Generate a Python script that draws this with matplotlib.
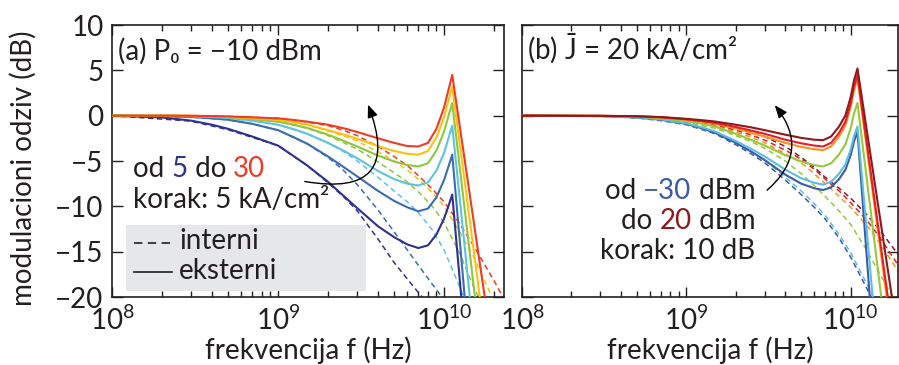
import numpy as np
import matplotlib
matplotlib.use('Agg')
import matplotlib.pyplot as plt
from matplotlib.patches import FancyArrowPatch, Rectangle
from matplotlib.lines import Line2D
from matplotlib.ticker import LogLocator, NullFormatter, MultipleLocator, LogFormatterMathtext

FONT = ['Lato', 'DejaVu Sans']
plt.rcParams['font.family'] = FONT
plt.rcParams['mathtext.fontset'] = 'custom'
plt.rcParams['mathtext.rm'] = 'Lato'
plt.rcParams['mathtext.it'] = 'Lato:italic'
TXT = '#231f20'

# ---------------- data: panel (a) P0 = -10 dBm, J = 5..30 kA/cm2 ----------------
J_labels = [5, 10, 15, 20, 25, 30]
freq_a_ext = [1e8, 2e8, 3e8, 4e8, 5e8, 7e8, 1e9, 1.25e9, 1.5e9, 2e9, 2.5e9, 3e9, 4e9, 5e9,
              6e9, 7e9, 8e9, 9e9, 1e10, 1.07e10, 1.12e10, 2e10]
ext_a_J5 = [0, -0.2, -0.55, -1.0, -1.45, -2.3, -3.3, -4.5, -5.5, -7.3, -8.9, -10.2, -12.2, -13.4,
            -14.2, -14.6, -14.3, -13.1, -11.35, -9.8, -8.7, -61]
ext_a_J10 = [0, -0.05, -0.15, -0.3, -0.45, -0.9, -1.6, -2.4, -3.1, -4.5, -5.7, -6.7, -8.3, -9.4,
             -10.1, -10.55, -10.25, -9.0, -7.1, -5.45, -4.3, -57]
ext_a_J15 = [0, -0.02, -0.07, -0.15, -0.25, -0.55, -1.0, -1.5, -2.0, -3.0, -3.9, -4.7, -6.1, -7.0,
             -7.5, -7.7, -7.35, -6.05, -4.1, -2.3, -1.1, -46]
ext_a_J20 = [0, 0, -0.03, -0.1, -0.17, -0.38, -0.66, -1.0, -1.35, -2.1, -2.8, -3.4, -4.4, -5.05,
             -5.45, -5.6, -5.25, -3.85, -1.75, 0.15, 1.4, -38]
ext_a_J25 = [0, 0, -0.02, -0.07, -0.12, -0.28, -0.47, -0.72, -1.0, -1.6, -2.1, -2.55, -3.35, -3.9,
             -4.2, -4.3, -3.9, -2.4, -0.2, 1.85, 3.2, -32]
ext_a_J30 = [0, 0, -0.01, -0.05, -0.08, -0.18, -0.3, -0.48, -0.66, -1.0, -1.4, -1.8, -2.5, -3.0,
             -3.35, -3.4, -3.0, -1.45, 0.9, 3.05, 4.5, -27]

freq_a_int = [1e8, 3e8, 5e8, 7e8, 1e9, 1.5e9, 2e9, 2.5e9, 3e9, 4e9, 5e9, 6e9, 7e9, 8.5e9, 1e10,
              1.25e10, 1.5e10, 2e10, 2.5e10]
int_a_J5 = [0, -0.6, -1.55, -2.4, -3.3, -5.5, -7.4, -9.0, -10.5, -13.6, -16.2, -18.0, -19.5,
            -21.4, -23.0, -25.6, -27.8, -31.5, -34.5]
int_a_J10 = [0, -0.15, -0.45, -0.9, -1.6, -3.1, -4.6, -6.1, -7.6, -10.4, -12.8, -14.8, -16.5,
             -18.6, -20.3, -23.2, -25.6, -29.2, -32]
int_a_J15 = [0, -0.1, -0.3, -0.55, -1.0, -2.0, -3.0, -4.0, -5.0, -6.8, -8.3, -9.5, -10.7,
             -12.6, -14.8, -19.0, -22.6, -27, -30]
int_a_J20 = [0, -0.05, -0.2, -0.38, -0.66, -1.4, -2.2, -3.0, -3.7, -5.1, -6.3, -7.3, -8.4,
             -10.0, -11.8, -15.3, -18.8, -23.5, -27]
int_a_J25 = [0, -0.05, -0.15, -0.28, -0.47, -1.0, -1.7, -2.25, -2.8, -4.0, -5.0, -6.0, -7.0,
             -8.5, -10.0, -12.9, -15.5, -20.5, -24]
int_a_J30 = [0, 0, -0.1, -0.18, -0.3, -0.7, -1.1, -1.65, -2.2, -3.4, -4.5, -5.5, -6.6,
             -8.1, -9.5, -12.0, -14.3, -18.2, -21.5]

# ---------------- data: panel (b) J = 20 kA/cm2, P0 = -30..20 dBm ----------------
P_labels = [-30, -20, -10, 0, 10, 20]
freq_b_ext = [1e8, 3e8, 5e8, 7e8, 1e9, 1.25e9, 1.5e9, 2e9, 2.5e9, 3e9, 4e9, 5e9, 6e9, 6.8e9,
              7.6e9, 8.5e9, 9.3e9, 1e10, 1.05e10, 1.1e10, 2e10]
ext_b_Pm30 = [0, -0.05, -0.2, -0.45, -0.9, -1.4, -1.9, -3.0, -4.0, -4.9, -6.5, -7.5, -8.0, -8.2,
              -7.9, -7.0, -5.95, -4.35, -2.8, -1.8, -65]
ext_b_Pm20 = [0, -0.05, -0.18, -0.4, -0.85, -1.3, -1.75, -2.8, -3.7, -4.5, -5.95, -6.9, -7.4, -7.6,
              -7.3, -6.4, -5.35, -3.75, -2.2, -1.2, -54]
ext_b_Pm10 = [0, -0.03, -0.1, -0.3, -0.6, -0.9, -1.2, -2.0, -2.7, -3.3, -4.35, -5.05, -5.45, -5.6,
              -5.25, -4.27, -3.15, -1.4, 0.3, 1.4, -37]
ext_b_P0 = [0, -0.02, -0.08, -0.2, -0.45, -0.67, -0.9, -1.4, -1.9, -2.3, -3.0, -3.45, -3.7, -3.8,
            -3.4, -2.3, -1.05, 0.95, 2.85, 4.1, -31]
ext_b_P10 = [0, -0.02, -0.07, -0.18, -0.4, -0.6, -0.8, -1.25, -1.65, -2.0, -2.65, -3.05, -3.3, -3.4,
             -3.0, -1.9, -0.65, 1.35, 3.25, 4.5, -30]
ext_b_P20 = [0, -0.02, -0.06, -0.15, -0.35, -0.5, -0.65, -1.0, -1.3, -1.6, -2.1, -2.45, -2.65, -2.7,
             -2.3, -1.2, 0.05, 2.05, 3.95, 5.2, -26]

freq_b_int = [1e8, 3e8, 5e8, 7e8, 1e9, 1.5e9, 2e9, 2.5e9, 3e9, 4e9, 5e9, 6e9, 7e9, 8.5e9, 1e10,
              1.25e10, 1.5e10, 2e10]
int_b_Pm30 = [0, -0.05, -0.25, -0.55, -1.0, -2.0, -3.2, -4.25, -5.2, -7.1, -8.7, -10.1, -11.4,
              -13.5, -15.6, -19.0, -22, -26]
int_b_Pm20 = [0, -0.05, -0.22, -0.5, -0.95, -1.9, -3.0, -4.0, -4.9, -6.8, -8.3, -9.7, -11.0,
              -13.1, -15.1, -18.5, -21.5, -25.5]
int_b_Pm10 = [0, -0.03, -0.15, -0.35, -0.7, -1.4, -2.2, -2.9, -3.6, -5.0, -6.4, -7.7, -8.9,
              -10.5, -12.0, -14.8, -17.4, -21.5]
int_b_P0 = [0, -0.02, -0.1, -0.25, -0.5, -1.1, -1.8, -2.4, -3.0, -4.2, -5.2, -6.4, -7.5,
            -8.9, -10.1, -12.1, -14.0, -17.5]
int_b_P10 = [0, -0.02, -0.1, -0.22, -0.45, -1.0, -1.6, -2.15, -2.7, -3.8, -4.8, -5.9, -7.0,
             -8.3, -9.6, -11.5, -13.4, -16.8]
int_b_P20 = [0, -0.02, -0.08, -0.2, -0.4, -0.8, -1.3, -1.8, -2.3, -3.4, -4.6, -5.7, -6.8,
             -8.0, -9.1, -10.9, -12.6, -15.6]

colors_a = ['#2e3192', '#3a6cb6', '#5fc3dc', '#8dc63f', '#fdc010', '#ef3b24']
colors_b = ['#3a5aaa', '#5cbde2', '#95c83d', '#f7941d', '#ec1c24', '#8b1a1c']

ext_a = [ext_a_J5, ext_a_J10, ext_a_J15, ext_a_J20, ext_a_J25, ext_a_J30]
int_a = [int_a_J5, int_a_J10, int_a_J15, int_a_J20, int_a_J25, int_a_J30]
ext_b = [ext_b_Pm30, ext_b_Pm20, ext_b_Pm10, ext_b_P0, ext_b_P10, ext_b_P20]
int_b = [int_b_Pm30, int_b_Pm20, int_b_Pm10, int_b_P0, int_b_P10, int_b_P20]

W, H = 899, 365
fig = plt.figure(figsize=(W / 100, H / 100), dpi=100)

def px_axes(x0, x1, y0, y1):
    return fig.add_axes([x0 / W, 1 - y1 / H, (x1 - x0) / W, (y1 - y0) / H])

axA = px_axes(112, 504, 25, 297)
axB = px_axes(522, 898, 25, 297)

FS = 20
LW = 1.5
DASH = (3.5, 2.4)

for ax, xmax in ((axA, 10 ** 10.361), (axB, 10 ** 10.288)):
    ax.set_xscale('log')
    ax.set_xlim(1e8, xmax)
    ax.set_ylim(-20, 10)
    ax.yaxis.set_major_locator(MultipleLocator(5))
    ax.xaxis.set_major_locator(LogLocator(base=10, numticks=10))
    ax.xaxis.set_minor_locator(LogLocator(base=10, subs=np.arange(2, 10), numticks=20))
    ax.xaxis.set_minor_formatter(NullFormatter())
    ax.xaxis.set_major_formatter(LogFormatterMathtext())
    ax.tick_params(which='both', direction='in', top=True, right=True, colors=TXT,
                   labelsize=FS, width=1.0)
    ax.tick_params(axis='x', which='major', length=7.5, pad=6)
    ax.tick_params(axis='x', which='minor', length=4.5)
    ax.tick_params(axis='y', which='major', length=8, pad=6)
    for s in ax.spines.values():
        s.set_color(TXT)
        s.set_linewidth(1.2)
    ax.set_xlabel('frekvencija f (Hz)', fontsize=FS, color=TXT, labelpad=1)

axB.tick_params(axis='y', labelleft=False)
axA.set_ylabel('modulacioni odziv (dB)', fontsize=FS, color=TXT)
axA.yaxis.set_label_coords(-(112 - 37) / 392, 0.472)

for vals, c in zip(int_a, colors_a):
    axA.plot(freq_a_int, vals, color=c, lw=1.1, dashes=DASH, zorder=2)
for vals, c in zip(ext_a, colors_a):
    axA.plot(freq_a_ext, vals, color=c, lw=LW, zorder=3)
for vals, c in zip(int_b, colors_b):
    axB.plot(freq_b_int, vals, color=c, lw=1.1, dashes=DASH, zorder=2)
for vals, c in zip(ext_b, colors_b):
    axB.plot(freq_b_ext, vals, color=c, lw=LW, zorder=3)

# ---------------- text helpers ----------------
renderer = fig.canvas.get_renderer()

def colored_line(ax, x, y, parts, ha='left'):
    """x,y in axes fraction; parts: list of (text, color)."""
    if ha == 'left':
        t = ax.text(x, y, parts[0][0], color=parts[0][1], fontsize=FS,
                    transform=ax.transAxes, ha='left', va='baseline')
        for s, c in parts[1:]:
            t.draw(renderer)
            t = ax.annotate(s, xy=(1, 0), xycoords=t, ha='left', va='bottom',
                            color=c, fontsize=FS)
    else:
        t = ax.text(x, y, parts[-1][0], color=parts[-1][1], fontsize=FS,
                    transform=ax.transAxes, ha='right', va='baseline')
        for s, c in reversed(parts[:-1]):
            t.draw(renderer)
            t = ax.annotate(s, xy=(0, 0), xycoords=t, ha='right', va='bottom',
                            color=c, fontsize=FS)

def fx(ax_x0, ax_w, px):
    return (px - ax_x0) / ax_w

def fy(py):
    return (297 - py) / 272

# panel (a) texts
axA.text(fx(112, 392, 118), fy(60), '(a) P\u2080 = \u221210 dBm', transform=axA.transAxes,
         fontsize=FS, color=TXT, ha='left', va='baseline')
colored_line(axA, fx(112, 392, 133), fy(177),
             [('od ', TXT), ('5', colors_a[0]), (' do ', TXT), ('30', colors_a[5])])
axA.text(fx(112, 392, 133), fy(208), 'korak: 5 kA/cm\u00b2', transform=axA.transAxes,
         fontsize=FS, color=TXT, ha='left', va='baseline')

axA.add_patch(Rectangle((fx(112, 392, 126), fy(291)), 240 / 392, 66 / 272,
                        transform=axA.transAxes, facecolor='#e6e7e8', edgecolor='none',
                        zorder=4))
axA.add_line(Line2D([fx(112, 392, 134), fx(112, 392, 172)], [fy(243), fy(243)],
                    transform=axA.transAxes, color=TXT, lw=1.2, dashes=(5, 3.3), zorder=5))
axA.add_line(Line2D([fx(112, 392, 134), fx(112, 392, 172)], [fy(272), fy(272)],
                    transform=axA.transAxes, color=TXT, lw=1.2, zorder=5))
axA.text(fx(112, 392, 179), fy(249), 'interni', transform=axA.transAxes,
         fontsize=FS, color=TXT, ha='left', va='baseline', zorder=6)
axA.text(fx(112, 392, 179), fy(279), 'eksterni', transform=axA.transAxes,
         fontsize=FS, color=TXT, ha='left', va='baseline', zorder=6)

arrA = FancyArrowPatch((fx(112, 392, 302), fy(181)), (fx(112, 392, 367), fy(102)),
                       transform=axA.transAxes, connectionstyle='arc3,rad=0.9',
                       arrowstyle='-|>,head_length=0.55,head_width=0.22', mutation_scale=14,
                       color='black', lw=1.0, zorder=6)
axA.add_patch(arrA)

# panel (b) texts
axB.text(fx(522, 376, 527), fy(60), '(b) $\\bar{\\mathrm{J}}$ = 20 kA/cm\u00b2',
         transform=axB.transAxes, fontsize=FS, color=TXT, ha='left', va='baseline')
colored_line(axB, fx(522, 376, 755), fy(199),
             [('od ', TXT), ('\u221230', colors_b[0]), (' dBm', TXT)], ha='right')
colored_line(axB, fx(522, 376, 755), fy(229),
             [('do ', TXT), ('20', colors_b[5]), (' dBm', TXT)], ha='right')
axB.text(fx(522, 376, 755), fy(259), 'korak: 10 dB', transform=axB.transAxes,
         fontsize=FS, color=TXT, ha='right', va='baseline')

arrB = FancyArrowPatch((fx(522, 376, 765), fy(192)), (fx(522, 376, 773), fy(103)),
                       transform=axB.transAxes, connectionstyle='arc3,rad=0.5',
                       arrowstyle='-|>,head_length=0.55,head_width=0.22', mutation_scale=14,
                       color='black', lw=1.0, zorder=6)
axB.add_patch(arrB)

fig.savefig('out.png', dpi=100)
